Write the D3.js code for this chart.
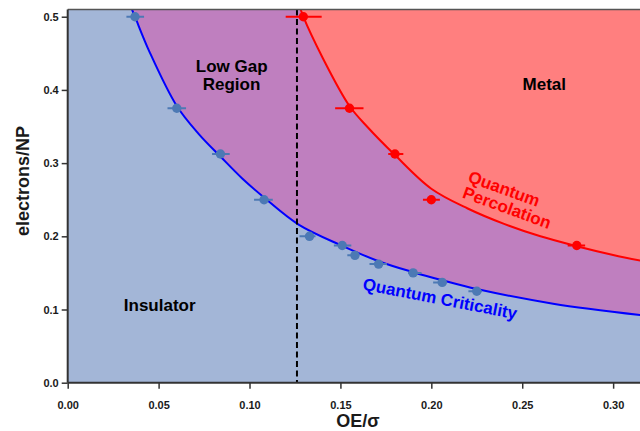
<!DOCTYPE html>
<html>
<head>
<meta charset="utf-8">
<script src="https://cdn.jsdelivr.net/npm/d3@7"></script>
<style>
  html, body { margin: 0; padding: 0; background: #fff; }
  svg { display: block; }
  text { font-family: "Liberation Sans", Arial, sans-serif; font-weight: bold; }
</style>
</head>
<body>
<svg id="chart" width="640" height="431"></svg>
<script>
// ---- data ----
const xTicks = [0.00, 0.05, 0.10, 0.15, 0.20, 0.25, 0.30];
const yTicks = [0.0, 0.1, 0.2, 0.3, 0.4, 0.5];

// Quantum criticality (blue) data points with horizontal error bars
const blueX     = [0.037, 0.060, 0.084, 0.108, 0.133, 0.151, 0.158, 0.171, 0.190, 0.206, 0.225];
const blueY     = [0.500, 0.375, 0.3125, 0.250, 0.200, 0.1875, 0.174, 0.162, 0.150, 0.137, 0.125];
const blueErrLo = [0.0047, 0.0051, 0.0046, 0.0055, 0.0055, 0.0046, 0.0042, 0.0050, 0.0028, 0.0050, 0.0046];
const blueErrHi = [0.0050, 0.0051, 0.0051, 0.0048, 0.0033, 0.0050, 0.0022, 0.0046, 0.0046, 0.0024, 0.0028];

// Quantum percolation (red) data points
const redX     = [0.1296, 0.155, 0.180, 0.200, 0.280];
const redY     = [0.500, 0.375, 0.3125, 0.250, 0.1875];
const redErrLo = [0.0097, 0.0079, 0.0037, 0.0046, 0.0050];
const redErrHi = [0.0101, 0.0077, 0.0046, 0.0047, 0.0046];

// Boundary curves
const blueCurveX = [0.0345, 0.037, 0.045, 0.060, 0.072, 0.084, 0.096, 0.108, 0.127, 0.151, 0.171, 0.190, 0.206, 0.225, 0.267, 0.315];
const blueCurveY = [0.515, 0.500, 0.452, 0.378, 0.340, 0.309, 0.279, 0.253, 0.216, 0.187, 0.166, 0.151, 0.140, 0.128, 0.108, 0.0925];
const redCurveX  = [0.1275, 0.1296, 0.140, 0.155, 0.165, 0.180, 0.200, 0.220, 0.240, 0.260, 0.280, 0.300, 0.315];
const redCurveY  = [0.515, 0.500, 0.445, 0.378, 0.349, 0.311, 0.265, 0.238, 0.217, 0.200, 0.1865, 0.1745, 0.1667];

const thresholdX = 0.1261;

// ---- layout ----
const svg = d3.select("#chart");
const mLeft = 67.7, mRight = 640.4, mTop = 9.4, mBottom = 382.7;
const x = d3.scaleLinear().domain([0, 0.315]).range([mLeft, mRight]);
const y = d3.scaleLinear().domain([0, 0.51]).range([mBottom, mTop]);

const colBlueBg = "#a3b6d7", colPurple = "#bf7fbf", colRed = "#ff7f7f";
const colBluePt = "#4c79b4";

svg.append("defs").append("clipPath").attr("id", "plotclip")
  .append("rect").attr("x", mLeft).attr("y", mTop).attr("width", mRight - mLeft).attr("height", mBottom - mTop);

const plot = svg.append("g").attr("clip-path", "url(#plotclip)");

plot.append("rect").attr("x", mLeft).attr("y", mTop).attr("width", mRight - mLeft).attr("height", mBottom - mTop)
  .attr("fill", colBlueBg);

const blueCurve = blueCurveX.map((d, i) => [d, blueCurveY[i]]);
const redCurve = redCurveX.map((d, i) => [d, redCurveY[i]]);
const curveType = d3.curveCatmullRom.alpha(0.5);

const areaAbove = d3.area().x(d => x(d[0])).y0(d => y(d[1])).y1(y(0.6)).curve(curveType);
plot.append("path").datum(blueCurve).attr("d", areaAbove).attr("fill", colPurple);
plot.append("path").datum(redCurve).attr("d", areaAbove).attr("fill", colRed);

const line = d3.line().x(d => x(d[0])).y(d => y(d[1])).curve(curveType);
plot.append("path").datum(blueCurve).attr("d", line).attr("fill", "none").attr("stroke", "#0000ff").attr("stroke-width", 2);
plot.append("path").datum(redCurve).attr("d", line).attr("fill", "none").attr("stroke", "#ff0000").attr("stroke-width", 2);

// dashed threshold line
plot.append("line").attr("x1", x(thresholdX)).attr("x2", x(thresholdX)).attr("y1", mTop).attr("y2", mBottom)
  .attr("stroke", "#000").attr("stroke-width", 2).attr("stroke-dasharray", "6,3.5");

// error bars and points
function drawPoints(xs, ys, lo, hi, color) {
  const g = plot.append("g");
  xs.forEach((d, i) => {
    g.append("line").attr("x1", x(d - lo[i])).attr("x2", x(d + hi[i]))
      .attr("y1", y(ys[i])).attr("y2", y(ys[i])).attr("stroke", color).attr("stroke-width", 2);
  });
  g.selectAll("circle").data(xs).join("circle")
    .attr("cx", d => x(d)).attr("cy", (d, i) => y(ys[i])).attr("r", 4.7).attr("fill", color);
}
drawPoints(blueX, blueY, blueErrLo, blueErrHi, colBluePt);
drawPoints(redX, redY, redErrLo, redErrHi, "#ff0000");

// region labels
const labels = svg.append("g").attr("font-size", 17).attr("text-anchor", "middle");
labels.append("text").attr("x", 231.7).attr("y", 72).text("Low Gap");
labels.append("text").attr("x", 231.5).attr("y", 89.5).text("Region");
labels.append("text").attr("x", 544.3).attr("y", 90).text("Metal");
labels.append("text").attr("x", 159.7).attr("y", 310.7).text("Insulator");
labels.append("text").attr("transform", "translate(440,299) rotate(11)").attr("dominant-baseline", "central")
  .attr("fill", "#0000ff").text("Quantum Criticality");
labels.append("text").attr("transform", "translate(504,189) rotate(20)").attr("dominant-baseline", "central")
  .attr("fill", "#ff0000").text("Quantum");
labels.append("text").attr("transform", "translate(507,208) rotate(20)").attr("dominant-baseline", "central")
  .attr("fill", "#ff0000").text("Percolation");

// frame
svg.append("line").attr("x1", mLeft).attr("x2", 640).attr("y1", mTop).attr("y2", mTop)
  .attr("stroke", "#555").attr("stroke-width", 1.5);

// axes
const xAxis = d3.axisBottom(x).tickValues(xTicks).tickFormat(d3.format(".2f")).tickSize(6).tickSizeOuter(0);
const yAxis = d3.axisLeft(y).tickValues(yTicks).tickFormat(d3.format(".1f")).tickSize(6).tickSizeOuter(0);

const gx = svg.append("g").attr("transform", `translate(0,${mBottom})`).call(xAxis);
const gy = svg.append("g").attr("transform", `translate(${mLeft},0)`).call(yAxis);
[gx, gy].forEach(g => {
  g.select(".domain").attr("stroke", "#333").attr("stroke-width", 2);
  g.selectAll(".tick line").attr("stroke", "#333").attr("stroke-width", 1.5);
  g.selectAll(".tick text").attr("font-size", 11).attr("font-weight", "bold")
    .attr("font-family", "'Liberation Sans', Arial, sans-serif").attr("fill", "#1a1a1a");
});
gx.select(".domain").attr("d", `M${mLeft},0H${mRight}`);
gy.select(".domain").attr("d", `M0,${mTop}V${mBottom}`);
gx.selectAll(".tick text").attr("dy", "1.55em");

// axis titles
svg.append("text").attr("x", 358).attr("y", 426.5).attr("text-anchor", "middle").attr("font-size", 18)
  .attr("fill", "#1a1a1a").text("OE/σ");
svg.append("text").attr("transform", "translate(28.5,181) rotate(-90)").attr("text-anchor", "middle")
  .attr("font-size", 18).attr("fill", "#1a1a1a").text("electrons/NP");
</script>
</body>
</html>
